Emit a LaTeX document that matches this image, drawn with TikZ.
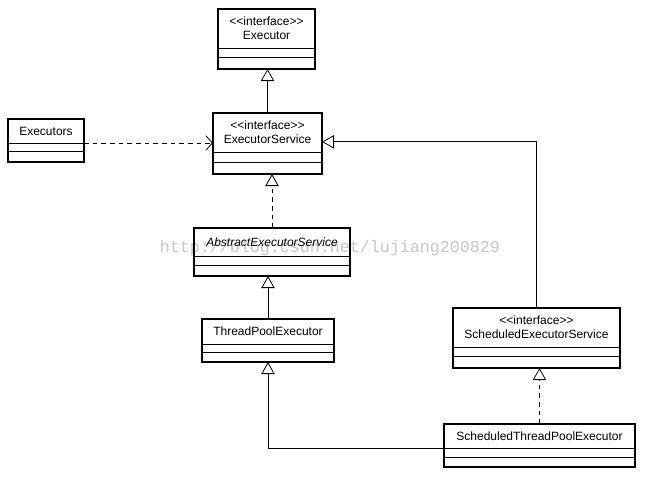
\documentclass[tikz,border=0pt]{standalone}
\usepackage{fontspec}
\usepackage{tikz}
\usetikzlibrary{positioning, arrows.meta}
\newfontfamily\umlfont{Liberation Sans}
\newfontfamily\markfont{Liberation Mono}
\newcommand{\stereo}{<<interface>>}

\begin{document}
\begin{tikzpicture}[
    x=0.75pt, y=-0.75pt,
    node distance=0pt,
    namepart/.style={draw, line width=0.6pt, inner sep=0pt, outer sep=0pt, anchor=north west,
        align=center, font=\umlfont\fontsize{9}{10.5}\selectfont},
    slotpart/.style={draw, line width=0.6pt, inner sep=0pt, outer sep=0pt},
    frame/.style={line width=1.5pt},
    generalize/.style={-{Triangle[open, length=9pt, width=10pt]}, line width=0.6pt},
    realize/.style={generalize, dash pattern=on 3.5pt off 3pt},
    depend/.style={-{Straight Barb[length=5pt, width=11pt]}, line width=0.6pt, dash pattern=on 3.5pt off 3pt},
    watermark/.style={font=\markfont\fontsize{12.5}{14}\selectfont, text=black!22}
]
\useasboundingbox (0,0) rectangle (645,478);

% watermark across the middle
\node[watermark] (mark) at (330,248) {http://blog.csdn.net/lujiang200829};

% Executor
\node[namepart, minimum width=72.75pt, minimum height=29.25pt] (executor-name) at (218,9) {\stereo\\Executor};
\node[slotpart, minimum width=72.75pt, minimum height=6.75pt, below=of executor-name] (executor-attr) {};
\node[slotpart, minimum width=72.75pt, minimum height=9pt, below=of executor-attr] (executor-op) {};
\draw[frame] (executor-name.north west) rectangle (executor-op.south east);

% ExecutorService
\node[namepart, minimum width=81.75pt, minimum height=29.25pt] (exsvc-name) at (213,113) {\stereo\\ExecutorService};
\node[slotpart, minimum width=81.75pt, minimum height=7.5pt, below=of exsvc-name] (exsvc-attr) {};
\node[slotpart, minimum width=81.75pt, minimum height=9pt, below=of exsvc-attr] (exsvc-op) {};
\draw[frame] (exsvc-name.north west) rectangle (exsvc-op.south east);

% Executors
\node[namepart, minimum width=57pt, minimum height=18pt] (executors-name) at (8,119) {Executors};
\node[slotpart, minimum width=57pt, minimum height=6pt, below=of executors-name] (executors-attr) {};
\node[slotpart, minimum width=57pt, minimum height=8.25pt, below=of executors-attr] (executors-op) {};
\draw[frame] (executors-name.north west) rectangle (executors-op.south east);

% AbstractExecutorService
\node[namepart, minimum width=117pt, minimum height=21pt] (abstract-name) at (194,228) {\itshape AbstractExecutorService};
\node[slotpart, minimum width=117pt, minimum height=6.75pt, below=of abstract-name] (abstract-attr) {};
\node[slotpart, minimum width=117pt, minimum height=8.25pt, below=of abstract-attr] (abstract-op) {};
\draw[frame] (abstract-name.north west) rectangle (abstract-op.south east);

% ThreadPoolExecutor
\node[namepart, minimum width=99pt, minimum height=18.75pt] (tpe-name) at (202,319) {ThreadPoolExecutor};
\node[slotpart, minimum width=99pt, minimum height=6pt, below=of tpe-name] (tpe-attr) {};
\node[slotpart, minimum width=99pt, minimum height=7.5pt, below=of tpe-attr] (tpe-op) {};
\draw[frame] (tpe-name.north west) rectangle (tpe-op.south east);

% ScheduledExecutorService
\node[namepart, minimum width=125.25pt, minimum height=29.25pt] (sesvc-name) at (453,308) {\stereo\\ScheduledExecutorService};
\node[slotpart, minimum width=125.25pt, minimum height=6.75pt, below=of sesvc-name] (sesvc-attr) {};
\node[slotpart, minimum width=125.25pt, minimum height=9pt, below=of sesvc-attr] (sesvc-op) {};
\draw[frame] (sesvc-name.north west) rectangle (sesvc-op.south east);

% ScheduledThreadPoolExecutor
\node[namepart, minimum width=143.25pt, minimum height=18pt] (stpe-name) at (444,424) {ScheduledThreadPoolExecutor};
\node[slotpart, minimum width=143.25pt, minimum height=6.75pt, below=of stpe-name] (stpe-attr) {};
\node[slotpart, minimum width=143.25pt, minimum height=7.5pt, below=of stpe-attr] (stpe-op) {};
\draw[frame] (stpe-name.north west) rectangle (stpe-op.south east);

% Connectors
\draw[generalize] (exsvc-name.north) -- (exsvc-name.north |- executor-op.south);
\draw[depend] (executors-name.south east) -- (exsvc-name.west |- executors-name.south east);
\draw[realize] (abstract-name.north) -- (abstract-name.north |- exsvc-op.south);
\draw[generalize] (tpe-name.north) -- (tpe-name.north |- abstract-op.south);
\draw[generalize] (sesvc-name.north) |- ([yshift=-7pt]exsvc-name.east);
\draw[realize] (stpe-name.north) -- (stpe-name.north |- sesvc-op.south);
\draw[generalize] (stpe-name.south west) -| (tpe-op.south);

\end{tikzpicture}
\end{document}
